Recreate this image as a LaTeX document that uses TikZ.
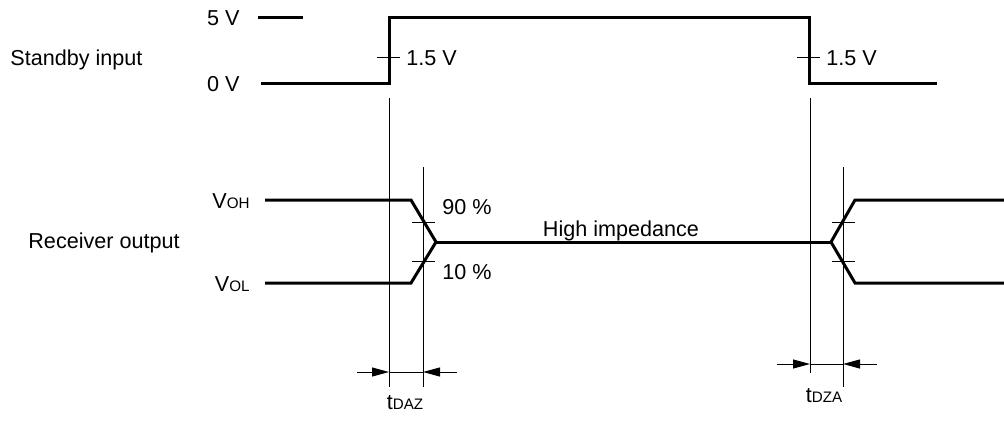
\documentclass[tikz,border=0pt]{standalone}
\usepackage{fontspec}
\setmainfont{Liberation Sans}
\usetikzlibrary{positioning, arrows.meta}
\tikzstyle{sig} = [line width=1.5pt, line join=miter]
\tikzstyle{guide} = [line width=0.5pt]
\tikzstyle{dimarrow} = [line width=0.5pt,-{Triangle[length=8.5pt,width=4.5pt]}]
\tikzstyle{lbl} = [inner sep=0pt, font=\fontsize{10.8}{13}\selectfont]
\newcommand{\subtxt}[1]{{\fontsize{7.6}{9}\selectfont #1}}

\begin{document}
\begin{tikzpicture}[x=0.5pt, y=-0.5pt]
        \useasboundingbox (0, 0) rectangle (1004, 423);
        % standby input
        \node[lbl, anchor=west] (sbin) at (10, 60) {Standby input};
        \node[lbl, anchor=east] (fivev) at (240, 18) {5 V};
        \node[lbl, anchor=east] (zerov) at (240, 84) {0 V};
        \draw[sig] (258, 17) -- (303, 17);
        \draw[sig] (261, 83) -- (389, 83) -- (389, 17) -- (809, 17) -- (809, 83) -- (937, 83);
        \draw[guide] (377, 57) -- (400, 57);
        \draw[guide] (797, 57) -- (820, 57);
        \node[lbl, anchor=west] (vrise) at (406, 58) {1.5 V};
        \node[lbl, anchor=west] (vfall) at (826, 58) {1.5 V};
        % receiver output
        \node[lbl, anchor=west] (rxout) at (28, 243) {Receiver output};
        \node[lbl, anchor=east] (voh) at (250, 201) {V\subtxt{OH}};
        \node[lbl, anchor=east] (vol) at (250, 284) {V\subtxt{OL}};
        \draw[sig] (265, 200) -- (411, 200) -- (436, 242) -- (411, 283) -- (265, 283);
        \draw[sig] (436, 242) -- (831, 242);
        \draw[sig] (1004, 200) -- (855, 200) -- (831, 242) -- (855, 283) -- (1004, 283);
        \draw[guide] (412, 222) -- (435, 222);
        \draw[guide] (412, 261) -- (435, 261);
        \draw[guide] (832, 222) -- (855, 222);
        \draw[guide] (832, 261) -- (855, 261);
        \node[lbl, anchor=west] (hi) at (442, 207) {90 \%};
        \node[lbl, anchor=west] (lo) at (442, 272) {10 \%};
        \node[lbl] (hiz) at (621, 231) {High impedance};
        % timing
        \draw[guide] (389, 98) -- (389, 387);
        \draw[guide] (423, 167) -- (423, 387);
        \draw[guide] (810, 98) -- (810, 373);
        \draw[guide] (843, 167) -- (843, 387);
        \draw[dimarrow] (357, 372) -- (389, 372);
        \draw[dimarrow] (457, 372) -- (423, 372);
        \draw[guide] (389, 372) -- (423, 372);
        \draw[dimarrow] (777, 364) -- (810, 364);
        \draw[dimarrow] (877, 364) -- (843, 364);
        \draw[guide] (810, 364) -- (843, 364);
        \node[lbl] (tdaz) at (405, 403) {t\subtxt{DAZ}};
        \node[lbl] (tdza) at (824, 396) {t\subtxt{DZA}};
\end{tikzpicture}
\end{document}
